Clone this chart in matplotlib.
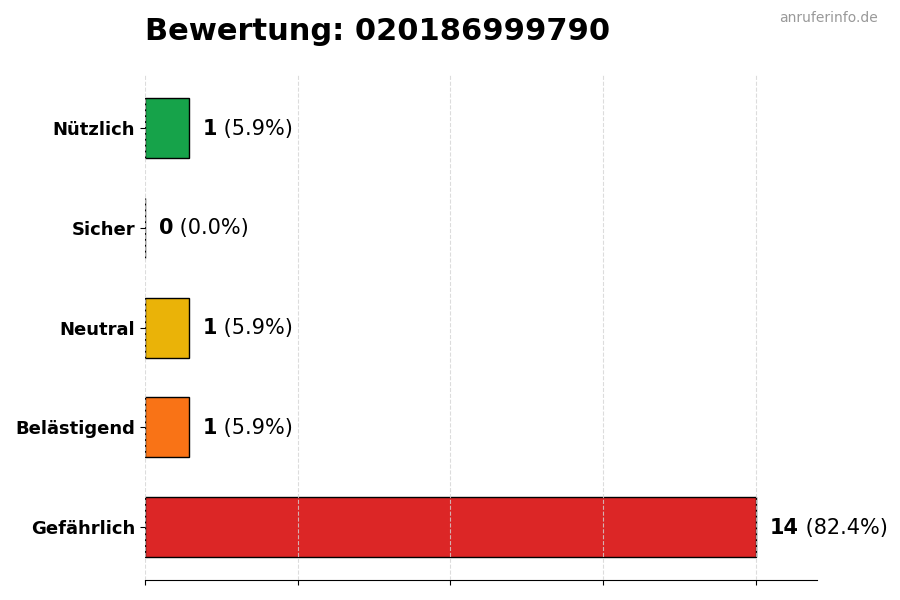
import matplotlib.pyplot as plt

categories = ['Nützlich', 'Sicher', 'Neutral', 'Belästigend', 'Gefährlich']
counts = [1, 0, 1, 1, 14]
colors = ['#16a34a', '#6b7280', '#eab308', '#f97316', '#dc2626']
total = sum(counts)

fig = plt.figure(figsize=(9, 6), dpi=100)
ax = fig.add_axes([0.161, 0.033, 0.747, 0.842])

ypos = list(range(len(categories)))[::-1]
bars = ax.barh(ypos, counts, height=0.6, color=colors, edgecolor='black', linewidth=1)

ax.set_xlim(0, max(counts) * 1.1)
ax.set_xticks([0, 3.5, 7, 10.5, 14])
ax.set_xticklabels([])
ax.set_yticks(ypos)
ax.set_yticklabels(categories, fontsize=13, fontweight='bold')

ax.grid(axis='x', linestyle='--', color='#d4d4d4', alpha=0.8)
ax.set_axisbelow(False)
for s in ['top', 'right', 'left']:
    ax.spines[s].set_visible(False)

# count in bold, share in normal weight right after it
for y, c in zip(ypos, counts):
    pct = c / total * 100
    t = ax.annotate(str(c), xy=(c, y), xytext=(10, -0.5), textcoords='offset points',
                    va='center', ha='left', fontsize=15, fontweight='bold')
    ax.annotate(f' ({pct:.1f}%)', xycoords=t, xy=(1, 0.5), va='center', ha='left',
                fontsize=15)

fig.text(0.161, 0.948, 'Bewertung: 020186999790', fontsize=22, fontweight='bold',
         ha='left', va='center')
fig.text(0.975, 0.97, 'anruferinfo.de', fontsize=10, color='#999999',
         ha='right', va='center')

fig.savefig('out.png', dpi=100)
